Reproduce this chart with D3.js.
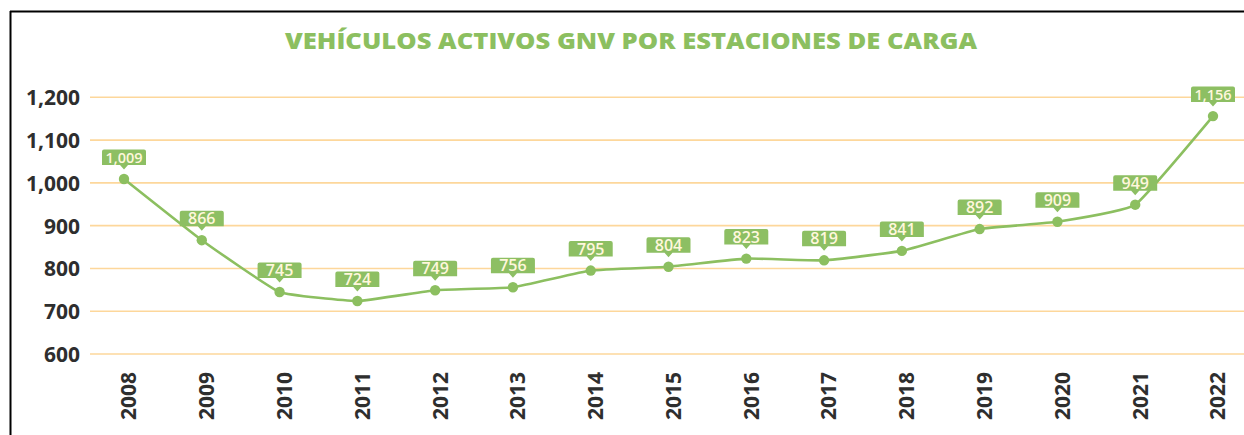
<!DOCTYPE html>
<html>
<head>
<meta charset="utf-8">
<script src="https://cdn.jsdelivr.net/npm/d3@7"></script>
<style>
  html, body { margin: 0; padding: 0; background: #ffffff; }
  svg { display: block; }
</style>
</head>
<body>
<svg id="chart" width="1244" height="435"></svg>
<script>
const title = "VEHÍCULOS ACTIVOS GNV POR ESTACIONES DE CARGA";
const years = ["2008","2009","2010","2011","2012","2013","2014","2015","2016","2017","2018","2019","2020","2021","2022"];
const vehicles = [1009, 866, 745, 724, 749, 756, 795, 804, 823, 819, 841, 892, 909, 949, 1156];
const yTicks = [600, 700, 800, 900, 1000, 1100, 1200];

const svg = d3.select("#chart");
const W = 1244, H = 435;

const green = "#8cbf60";
const boxGreen = "#8dbf63";
const gridColor = "#fdd79b";
const textDark = "#2e2e2e";

// frame
svg.append("line").attr("x1", 10.5).attr("x2", 10.5).attr("y1", 11).attr("y2", H)
  .attr("stroke", "#000").attr("stroke-width", 2);
svg.append("line").attr("x1", 10).attr("x2", W).attr("y1", 11.5).attr("y2", 11.5)
  .attr("stroke", "#000").attr("stroke-width", 2);

// title
svg.append("text")
  .attr("x", 631).attr("y", 49)
  .attr("text-anchor", "middle")
  .attr("font-family", "'Open Sans', sans-serif")
  .attr("font-weight", 800)
  .attr("font-size", 22)
  .attr("fill", green)
  .attr("textLength", 692)
  .attr("lengthAdjust", "spacingAndGlyphs")
  .text(title);

// scales
const x = d3.scalePoint().domain(years).range([124, 1213]);
const y = d3.scaleLinear().domain([600, 1200]).range([354, 97.3]);

// grid
const grid = svg.append("g");
grid.selectAll("line").data(yTicks).join("line")
  .attr("x1", 90).attr("x2", W)
  .attr("y1", d => y(d)).attr("y2", d => y(d))
  .attr("stroke", gridColor).attr("stroke-width", 1.6);

// y axis
const yAxis = d3.axisLeft(y).tickValues(yTicks).tickSize(0).tickPadding(0)
  .tickFormat(d3.format(","));
const yg = svg.append("g").attr("transform", "translate(80,0)").call(yAxis);
yg.select(".domain").remove();
yg.selectAll("text")
  .attr("font-family", "'Open Sans', sans-serif")
  .attr("font-weight", 700)
  .attr("font-size", 21)
  .attr("fill", textDark)
  .attr("dy", "0.35em");

// x axis
const xAxis = d3.axisBottom(x).tickSize(0).tickPadding(0);
const xg = svg.append("g").call(xAxis);
xg.select(".domain").remove();
xg.selectAll(".tick").attr("transform", d => `translate(${x(d) + 5},372)`);
xg.selectAll("text")
  .attr("transform", "rotate(-90)")
  .attr("text-anchor", "end")
  .attr("x", 0).attr("y", 0)
  .attr("dy", "0.35em")
  .attr("font-family", "'Open Sans', sans-serif")
  .attr("font-weight", 700)
  .attr("font-size", 21)
  .attr("fill", textDark);

// line
const data = years.map((yr, i) => ({ yr, v: vehicles[i] }));
const line = d3.line().x(d => x(d.yr)).y(d => y(d.v)).curve(d3.curveCardinal.tension(0.65));
svg.append("path").datum(data)
  .attr("d", line)
  .attr("fill", "none")
  .attr("stroke", green)
  .attr("stroke-width", 2.6);

svg.append("g").selectAll("circle").data(data).join("circle")
  .attr("cx", d => x(d.yr)).attr("cy", d => y(d.v)).attr("r", 5.2)
  .attr("fill", green);

// data labels (callouts)
const fmt = d3.format(",");
const lab = svg.append("g").selectAll("g").data(data).join("g")
  .attr("transform", d => `translate(${x(d.yr)},${y(d.v)})`);
const bw = 44, bh = 15.5, gap = 14, tip = 9.5;
lab.append("path")
  .attr("d", `M${-bw/2 + 2},${-gap - bh} H${bw/2 - 2} Q${bw/2},${-gap - bh} ${bw/2},${-gap - bh + 2} V${-gap} H4 L0,${-tip} L-4,${-gap} H${-bw/2} V${-gap - bh + 2} Q${-bw/2},${-gap - bh} ${-bw/2 + 2},${-gap - bh} Z`)
  .attr("fill", boxGreen);
lab.append("text")
  .attr("x", 0).attr("y", -gap - bh / 2)
  .attr("dy", "0.37em")
  .attr("text-anchor", "middle")
  .attr("font-family", "'Open Sans', sans-serif")
  .attr("font-weight", 600)
  .attr("font-size", d => d.v >= 1000 ? 14.5 : 16)
  .attr("fill", "#fff7dc")
  .text(d => fmt(d.v));
</script>
</body>
</html>
